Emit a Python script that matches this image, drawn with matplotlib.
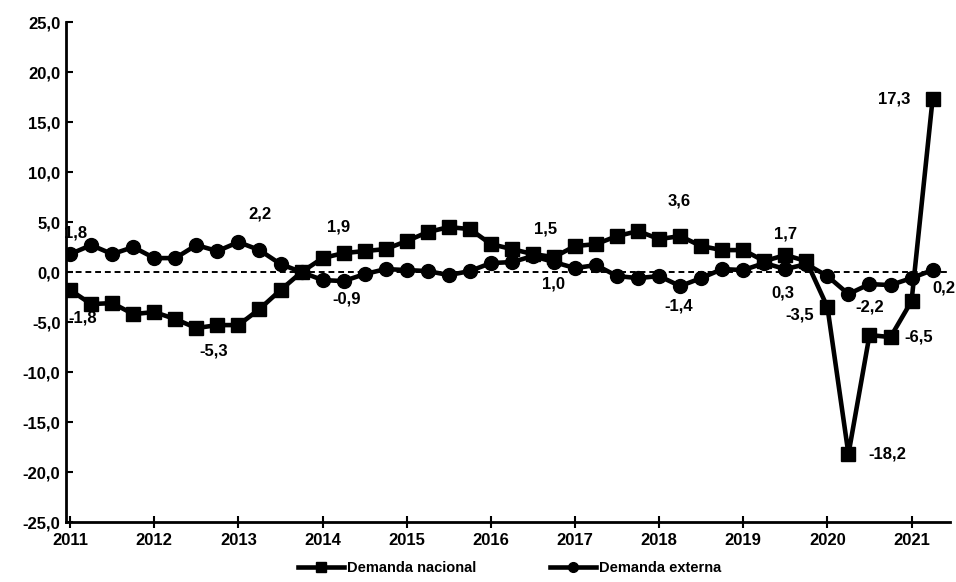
import matplotlib
matplotlib.use('Agg')
import matplotlib.pyplot as plt
import numpy as np

plt.rcParams['font.family'] = ['Liberation Sans', 'DejaVu Sans']
plt.rcParams['font.weight'] = 'bold'

# quarterly series, 2011-I .. 2021-II
years = [2011, 2012, 2013, 2014, 2015, 2016, 2017, 2018, 2019, 2020, 2021]
nacional = [-1.8, -3.2, -3.1, -4.2, -4.0, -4.7, -5.6, -5.3,
            -5.3, -3.7, -1.8, 0.0, 1.4, 1.9, 2.1, 2.3,
            3.1, 4.0, 4.5, 4.3, 2.8, 2.3, 1.8, 1.5,
            2.6, 2.8, 3.6, 4.1, 3.3, 3.6, 2.6, 2.2,
            2.2, 1.1, 1.7, 1.1, -3.5, -18.2, -6.3, -6.5,
            -2.9, 17.3]
externa = [1.8, 2.7, 1.8, 2.5, 1.4, 1.4, 2.7, 2.1,
           3.0, 2.2, 0.8, 0.0, -0.8, -0.9, -0.2, 0.3,
           0.2, 0.1, -0.3, 0.1, 0.9, 1.0, 1.6, 1.0,
           0.4, 0.7, -0.4, -0.6, -0.4, -1.4, -0.6, 0.3,
           0.2, 0.9, 0.3, 0.8, -0.4, -2.2, -1.2, -1.3,
           -0.6, 0.2]
yticks = [25, 20, 15, 10, 5, 0, -5, -10, -15, -20, -25]

# (indice, dx, dy) offsets in points for the value labels
etiquetas_nac = [(0, 9, -20), (7, -3, -19), (13, -4, 19), (23, -6, 20),
                 (29, -1, 25), (34, 0, 15), (36, -20, -6), (37, 28, 0),
                 (39, 20, 0), (41, -28, 0)]
etiquetas_ext = [(0, 4, 15), (9, 0, 26), (13, 2, -13), (23, 0, -16),
                 (29, -1, -14), (34, -2, -17), (37, 15, -9), (41, 8, -13)]

x = np.array([2011 + 0.25 * i for i in range(len(nacional))])

fig = plt.figure(figsize=(9.56, 5.82), dpi=100)
ax = fig.add_axes([0.069, 0.103, 0.925, 0.859])

ax.axhline(0, color='black', lw=1.4, ls=(0, (3, 2)), zorder=1)
ax.plot(x, nacional, color='black', lw=3.3, marker='s', markersize=10,
        label='Demanda nacional', zorder=3)
ax.plot(x, externa, color='black', lw=3.3, marker='o', markersize=10,
        label='Demanda externa', zorder=3)

def fmt(v):
    return ('%.1f' % v).replace('.', ',')

for i, dx, dy in etiquetas_nac:
    ax.annotate(fmt(nacional[i]), (x[i], nacional[i]), xytext=(dx, dy),
                textcoords='offset points', ha='center', va='center',
                fontsize=12, fontweight='bold')
for i, dx, dy in etiquetas_ext:
    ax.annotate(fmt(externa[i]), (x[i], externa[i]), xytext=(dx, dy),
                textcoords='offset points', ha='center', va='center',
                fontsize=12, fontweight='bold')

ax.set_xlim(2010.95, 2021.46)
ax.set_ylim(-25, 25)
ax.set_yticks(yticks)
ax.set_yticklabels([fmt(v) for v in yticks], fontsize=12, fontweight='bold')
ax.set_xticks(years)
ax.set_xticklabels([str(y) for y in years], fontsize=12, fontweight='bold')
ax.tick_params(axis='y', direction='in', length=5, width=1.5, pad=4)
ax.tick_params(axis='x', direction='inout', length=8, width=1.5, pad=4)

ax.spines['top'].set_visible(False)
ax.spines['right'].set_visible(False)
ax.spines['left'].set_linewidth(2)
ax.spines['bottom'].set_linewidth(2)

fig.legend(loc='center', bbox_to_anchor=(0.533, 0.024), ncol=2, frameon=False,
           fontsize=10.5, handlelength=3.2, handletextpad=0.2, columnspacing=5,
           markerscale=0.7)

fig.savefig('out.png', dpi=100)
